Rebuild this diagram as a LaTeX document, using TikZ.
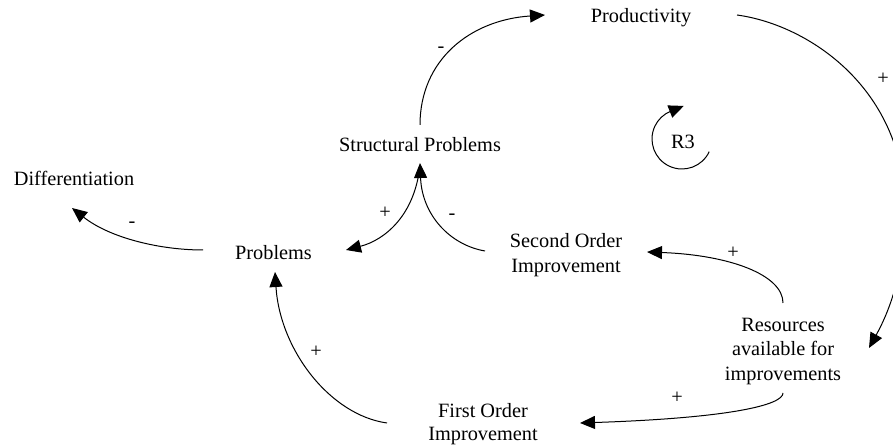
\documentclass[tikz,border=0pt]{standalone}
\usepackage{fontspec}
\setmainfont{Liberation Serif}
\usetikzlibrary{arrows.meta,calc}
\tikzset{
  var/.style={inner sep=0pt,align=center,font=\fontsize{20.3}{24.5}\selectfont},
  sign/.style={inner sep=0pt,font=\fontsize{20.3}{24.5}\selectfont},
  link/.style={line width=1pt,-{Triangle[length=15pt,width=13pt]}},
  plain/.style={line width=1pt}
}
\begin{document}
\begin{tikzpicture}[x=1pt,y=1pt]
\useasboundingbox (0,0) rectangle (893,446);
% variables
\node[var] (prod)  at (641,428)   {Productivity};
\node[var] (sp)    at (420,301)   {Structural Problems};
\node[var] (diff)  at (74,268)    {Differentiation};
\node[var] (prob)  at (273.5,193) {Problems};
\node[var] (so)    at (566,191)   {Second Order\\Improvement};
\node[var] (res)   at (783,94.5)  {Resources\\available for\\improvements};
\node[var,font=\fontsize{20.3}{23}\selectfont] (first) at (483,21.5) {First Order\\Improvement};
\node[var] (r3)    at (683,304)   {R3};
% links
\draw[link] ($(sp)+(0,20)$) .. controls (420,386) and (470,426) .. ($(prod)+(-96,3)$);
\coordinate (pr) at (905,236);
\draw[plain] ($(prod)+(96,3)$) .. controls (810,421) and (905,356) .. (pr);
\draw[link] (pr) .. controls (905,176) and (890,136) .. ($(res)+(86,3.5)$);
\draw[link] ($(res)+(0,48.5)$) .. controls (783,171) and (730,191) .. ($(so)+(81,3)$);
\draw[link] ($(res)+(0,-41.5)$) .. controls (783,41) and (730,28) .. ($(first)+(97,1.5)$);
\draw[link] ($(first)+(-96,1.5)$) .. controls (330,31) and (280,96) .. ($(prob)+(1.5,-19)$);
\draw[link] ($(prob)+(-70.5,3)$) .. controls (160,196) and (110,208) .. ($(diff)+(-2,-30)$);
\draw[link] ($(sp)+(0,-20)$) .. controls (415,231) and (385,206) .. ($(prob)+(72.5,3)$);
\draw[link] ($(so)+(-81,4)$) .. controls (450,201) and (422,231) .. ($(sp)+(0,-18)$);
% loop marker
\coordinate (lc) at ($(r3)+(-1,3)$);
\draw[link] ($(lc)+(-25:30)$) arc[start angle=-25,end angle=-248,radius=30] -- ++(22:14);
% signs
\node[sign] (s1) at (441,396) {-};
\node[sign] (s2) at (883,367) {+};
\node[sign] (s3) at (733,193) {+};
\node[sign] (s4) at (677,48)  {+};
\node[sign] (s5) at (316,94)  {+};
\node[sign] (s6) at (132,221) {-};
\node[sign] (s7) at (385,233) {+};
\node[sign] (s8) at (452,229) {-};
\end{tikzpicture}
\end{document}
